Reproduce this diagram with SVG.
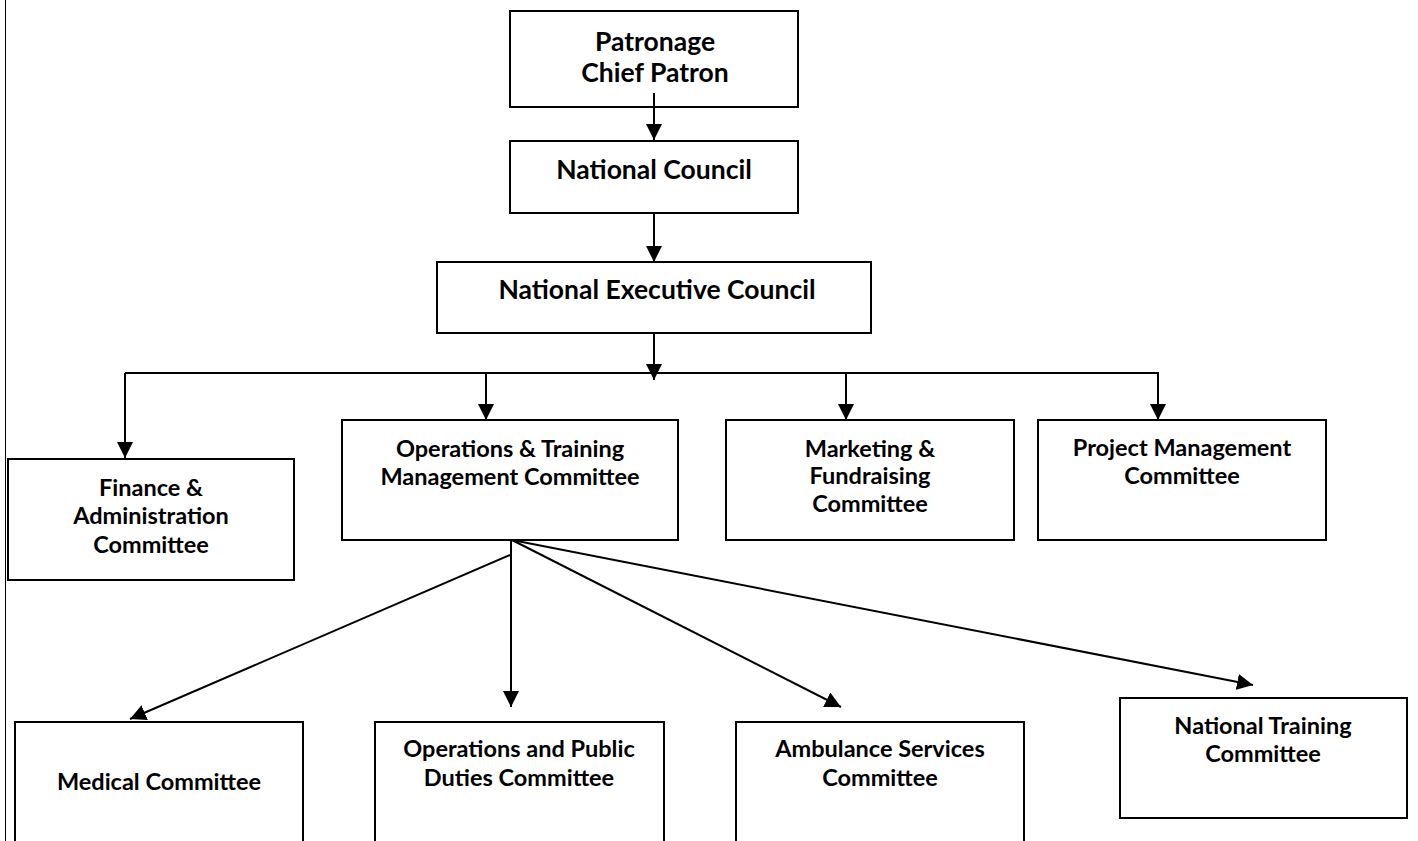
<svg xmlns="http://www.w3.org/2000/svg" width="1418" height="841" viewBox="0 0 1418 841">
<style>
.box{fill:#fff;stroke:#000;stroke-width:2}
.lbl{font-family:Lato,"Open Sans",sans-serif;font-weight:bold;font-size:23.5px;fill:#000;text-anchor:middle;dominant-baseline:central}
.big{font-size:26.5px}
.con{fill:none;stroke:#000;stroke-width:2}
</style>
<defs>
<marker id="ah" markerUnits="userSpaceOnUse" markerWidth="16" markerHeight="16" viewBox="0 0 14 14" refX="14" refY="7" orient="auto">
<path d="M0,0 L14,7 L0,14 Z" fill="#000"/>
</marker>
</defs>
<rect width="1418" height="841" fill="#fff"/>
<line x1="5.5" y1="0" x2="5.5" y2="841" stroke="#000" stroke-width="1"/>
<g id="patronage"><rect class="box" x="510" y="11" width="288" height="96"/><text class="lbl big" x="655" y="41">Patronage</text><text class="lbl big" x="655" y="72">Chief Patron</text></g>
<g id="national-council"><rect class="box" x="510" y="141" width="288" height="72"/><text class="lbl big" x="654" y="169">National Council</text></g>
<g id="nec"><rect class="box" x="437" y="262" width="434" height="71"/><text class="lbl big" x="657" y="289">National Executive Council</text></g>
<g id="finance"><rect class="box" x="8" y="459" width="286" height="121"/><text class="lbl" x="151" y="487">Finance &amp;</text><text class="lbl" x="151" y="515">Administration</text><text class="lbl" x="151" y="544">Committee</text></g>
<g id="ops-training"><rect class="box" x="342" y="420" width="336" height="120"/><text class="lbl" x="510" y="448">Operations &amp; Training</text><text class="lbl" x="510" y="476">Management Committee</text></g>
<g id="marketing"><rect class="box" x="726" y="420" width="288" height="120"/><text class="lbl" x="870" y="448">Marketing &amp;</text><text class="lbl" x="870" y="475">Fundraising</text><text class="lbl" x="870" y="503">Committee</text></g>
<g id="project"><rect class="box" x="1038" y="420" width="288" height="120"/><text class="lbl" x="1182" y="447">Project Management</text><text class="lbl" x="1182" y="475">Committee</text></g>
<g id="medical"><rect class="box" x="15" y="722" width="288" height="130"/><text class="lbl" x="159" y="781">Medical Committee</text></g>
<g id="ops-public"><rect class="box" x="375" y="722" width="289" height="130"/><text class="lbl" x="519" y="748">Operations and Public</text><text class="lbl" x="519" y="777">Duties Committee</text></g>
<g id="ambulance"><rect class="box" x="736" y="722" width="288" height="130"/><text class="lbl" x="880" y="748">Ambulance Services</text><text class="lbl" x="880" y="777">Committee</text></g>
<g id="national-training"><rect class="box" x="1120" y="698" width="287" height="120"/><text class="lbl" x="1263" y="725">National Training</text><text class="lbl" x="1263" y="753">Committee</text></g>
<g id="connectors">
<line class="con" x1="654" y1="93" x2="654" y2="140" marker-end="url(#ah)"/>
<line class="con" x1="654" y1="213" x2="654" y2="262" marker-end="url(#ah)"/>
<line class="con" x1="654" y1="333" x2="654" y2="380" marker-end="url(#ah)"/>
<polyline class="con" points="125,373 1158,373"/>
<line class="con" x1="125" y1="373" x2="125" y2="458" marker-end="url(#ah)"/>
<line class="con" x1="486" y1="373" x2="486" y2="420" marker-end="url(#ah)"/>
<line class="con" x1="846" y1="373" x2="846" y2="420" marker-end="url(#ah)"/>
<line class="con" x1="1158" y1="372" x2="1158" y2="420" marker-end="url(#ah)"/>
<line class="con" x1="510" y1="555" x2="130" y2="719" marker-end="url(#ah)"/>
<line class="con" x1="511" y1="540" x2="511" y2="707" marker-end="url(#ah)"/>
<line class="con" x1="512" y1="540" x2="841" y2="707" marker-end="url(#ah)"/>
<line class="con" x1="512" y1="540" x2="1253" y2="685" marker-end="url(#ah)"/>
</g>
</svg>
